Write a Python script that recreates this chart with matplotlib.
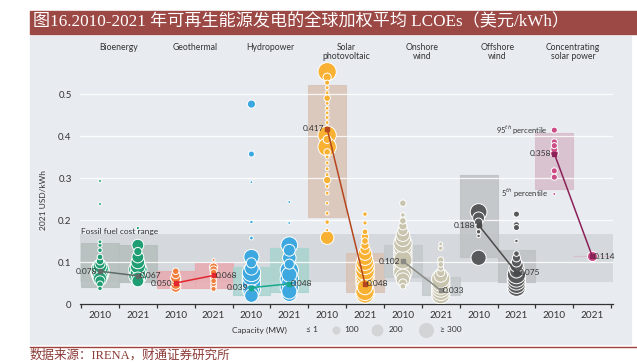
import matplotlib.pyplot as plt
from matplotlib.patches import Rectangle
import numpy as np

plt.rcParams['font.family'] = ['Lato', 'DejaVu Sans', 'Noto Sans CJK SC']

# ---- data ----
techs = ["Bioenergy", "Geothermal", "Hydropower", "Solar\nphotovoltaic",
         "Onshore\nwind", "Offshore\nwind", "Concentrating\nsolar power"]
years = ["2010", "2021"]

avg_2010 = [0.078, 0.050, 0.039, 0.417, 0.102, 0.188, 0.358]
avg_2021 = [0.067, 0.068, 0.048, 0.048, 0.033, 0.075, 0.114]
avg_labels_2010 = ["0.078", "0.050", "0.039", "0.417", "0.102", "0.188", "0.358"]
avg_labels_2021 = ["0.067", "0.068", "0.048", "0.048", "0.033", "0.075", "0.114"]

# 5th / 95th percentile boxes
p05_2010 = [0.040, 0.038, 0.021, 0.207, 0.064, 0.112, 0.274]
p95_2010 = [0.145, 0.079, 0.088, 0.521, 0.140, 0.307, 0.407]
p05_2021 = [0.052, 0.038, 0.028, 0.029, 0.021, 0.052, 0.114]
p95_2021 = [0.140, 0.098, 0.133, 0.121, 0.064, 0.129, 0.114]

fossil_low, fossil_high = 0.053, 0.167

# individual projects: LCOE (USD/kWh) and capacity (MW)
bio_2010_lcoe = [0.293, 0.238, 0.148, 0.140, 0.128, 0.112, 0.102, 0.096, 0.090, 0.085, 0.080,
                 0.075, 0.070, 0.065, 0.060, 0.055, 0.047, 0.037]
bio_2010_mw = [1, 1, 10, 15, 20, 40, 80, 150, 250, 350, 400, 400, 350, 300, 250, 150, 60, 20]
bio_2021_lcoe = [0.181, 0.140, 0.125, 0.112, 0.100, 0.090, 0.082, 0.075, 0.068, 0.060, 0.055]
bio_2021_mw = [3, 200, 100, 200, 250, 300, 400, 300, 400, 250, 200]

geo_2010_lcoe = [0.078, 0.070, 0.062, 0.056, 0.047, 0.040]
geo_2010_mw = [60, 100, 150, 150, 150, 150]
geo_2021_lcoe = [0.105, 0.088, 0.082, 0.075, 0.068, 0.061, 0.055, 0.048, 0.041, 0.036]
geo_2021_mw = [1, 100, 80, 60, 80, 50, 40, 40, 40, 30]

hydro_2010_lcoe = [0.476, 0.357, 0.290, 0.195, 0.157, 0.112, 0.098, 0.085, 0.075, 0.066,
                   0.058, 0.050, 0.043, 0.035, 0.028, 0.020]
hydro_2010_mw = [100, 50, 1, 5, 10, 300, 150, 250, 400, 400, 400, 400, 400, 400, 300, 250]
hydro_2021_lcoe = [0.243, 0.193, 0.140, 0.128, 0.110, 0.095, 0.080, 0.070, 0.060, 0.050,
                   0.040, 0.030, 0.024]
hydro_2021_mw = [1, 1, 350, 200, 250, 150, 400, 300, 400, 300, 400, 300, 300]

solar_2010_lcoe = [0.553, 0.540, 0.527, 0.515, 0.503, 0.490, 0.478, 0.466, 0.455, 0.444,
                   0.432, 0.420, 0.402, 0.392, 0.374, 0.362, 0.350, 0.336, 0.322, 0.308,
                   0.295, 0.280, 0.264, 0.240, 0.216, 0.195, 0.176, 0.158]
solar_2010_mw = [400, 100, 30, 10, 10, 60, 10, 10, 10, 10, 10, 10, 400, 100, 400, 60, 10,
                 10, 10, 10, 80, 10, 10, 5, 10, 20, 5, 250]
solar_2021_lcoe = [0.214, 0.193, 0.172, 0.160, 0.150, 0.140, 0.130, 0.120, 0.110, 0.100,
                   0.092, 0.085, 0.078, 0.070, 0.062, 0.055, 0.048, 0.040, 0.030, 0.024]
solar_2021_mw = [20, 15, 40, 80, 60, 100, 150, 250, 300, 350, 400, 400, 400, 400, 400, 400,
                 400, 300, 400, 400]

onshore_2010_lcoe = [0.240, 0.212, 0.198, 0.186, 0.175, 0.165, 0.155, 0.145, 0.135, 0.125,
                     0.115, 0.105, 0.095, 0.085, 0.075, 0.065, 0.058, 0.050, 0.042]
onshore_2010_mw = [60, 20, 60, 100, 150, 250, 300, 400, 400, 400, 400, 400, 400, 400, 400,
                   300, 250, 100, 40]
onshore_2021_lcoe = [0.143, 0.133, 0.105, 0.094, 0.085, 0.075, 0.068, 0.060, 0.052, 0.045,
                     0.038, 0.030, 0.022]
onshore_2021_mw = [10, 20, 50, 40, 40, 100, 250, 400, 400, 400, 400, 400, 400]

offshore_2010_lcoe = [0.219, 0.205, 0.195, 0.185, 0.172, 0.162, 0.110]
offshore_2010_mw = [350, 200, 100, 40, 20, 5, 300]
offshore_2021_lcoe = [0.214, 0.188, 0.182, 0.150, 0.120, 0.110, 0.100, 0.092, 0.085, 0.078,
                      0.070, 0.062, 0.055, 0.047, 0.040]
offshore_2021_mw = [50, 60, 50, 5, 40, 100, 150, 250, 300, 250, 400, 400, 400, 400, 400]

csp_2010_lcoe = [0.414, 0.386, 0.377, 0.368, 0.360, 0.317, 0.302, 0.262]
csp_2010_mw = [50, 50, 50, 70, 100, 50, 50, 1]
csp_2021_lcoe = [0.114]
csp_2021_mw = [150]

projects = [
    (bio_2010_lcoe, bio_2010_mw, bio_2021_lcoe, bio_2021_mw),
    (geo_2010_lcoe, geo_2010_mw, geo_2021_lcoe, geo_2021_mw),
    (hydro_2010_lcoe, hydro_2010_mw, hydro_2021_lcoe, hydro_2021_mw),
    (solar_2010_lcoe, solar_2010_mw, solar_2021_lcoe, solar_2021_mw),
    (onshore_2010_lcoe, onshore_2010_mw, onshore_2021_lcoe, onshore_2021_mw),
    (offshore_2010_lcoe, offshore_2010_mw, offshore_2021_lcoe, offshore_2021_mw),
    (csp_2010_lcoe, csp_2010_mw, csp_2021_lcoe, csp_2021_mw),
]

legend_mw = [1, 100, 200, 300]
legend_labels = ["\u2264 1", "100", "200", "\u2265 300"]

# ---- styles ----
dot_colors = ['#1f9e74', '#f07e3a', '#3da8df', '#f8b133', '#c9c4ae', '#58595b', '#cc4c86']
box_colors = ['#b5bfbc', '#e8aab0', '#a9d4cf', '#d9c3b5', '#c4c9cc', '#bfc2c5', '#d8bccb']
line_colors = ['#5e6b66', '#e3262e', '#18a88d', '#b5461e', '#8a8a85', '#4a4a4a', '#8a2158']
txt = '#333333'


def msize(mw):
    mw = np.asarray(mw, dtype=float)
    d_px = 2.5 + 0.35 * np.sqrt(mw) + 0.022 * mw
    return (d_px * 0.72) ** 2


fig = plt.figure(figsize=(6.37, 3.63), dpi=100)
W, H = 637, 363

# panel background, title bar, footer line
fig.patches.append(Rectangle((30 / W, 1 - 344 / H), 601 / W, 308 / H,
                             transform=fig.transFigure, color='#e8ecf1', zorder=-2))
fig.patches.append(Rectangle((30 / W, 1 - 34 / H), 607 / W, 23 / H,
                             transform=fig.transFigure, color='#9c4844', zorder=-2))
fig.lines.append(plt.Line2D([30 / W, 1], [1 - 347 / H, 1 - 347 / H],
                            transform=fig.transFigure, color='#a0413d', lw=1, zorder=-2))
fig.text(33 / W, 1 - 22.5 / H,
         "图16.2010-2021 年可再生能源发电的全球加权平均 LCOEs（美元/kWh）",
         color='white', fontsize=12.3, va='center', ha='left',
         family=['Liberation Serif', 'Noto Sans CJK SC'])
fig.text(30 / W, 1 - 355 / H, "数据来源：IRENA，财通证券研究所",
         color='#8b3a36', fontsize=9, va='center', ha='left',
         family=['Liberation Serif', 'Noto Sans CJK SC'])

ax = fig.add_axes([80 / W, 1 - 304 / H, 533 / W, 264.6 / H])
ax.set_facecolor('none')
ax.set_xlim(-0.528, 13.55)
ax.set_ylim(0, 0.63)

# fossil fuel band
ax.axhspan(fossil_low, fossil_high, color='#cdd0d4', alpha=0.7, lw=0, zorder=1)
ax.text(-0.5, fossil_high - 0.003, "Fossil fuel cost range", fontsize=6, color=txt,
        va='bottom', ha='left', zorder=6)

for i in range(len(techs)):
    x0, x1 = 2 * i, 2 * i + 1
    ax.bar(x0, p95_2010[i] - p05_2010[i], bottom=p05_2010[i], width=1.0,
           color=box_colors[i], edgecolor=box_colors[i], lw=0.8, alpha=0.85, zorder=2)
    ax.bar(x1, p95_2021[i] - p05_2021[i], bottom=p05_2021[i], width=1.0,
           color=box_colors[i], edgecolor=box_colors[i], lw=0.8, alpha=0.85, zorder=2)

# grid lines
for gy in [0.1, 0.2, 0.3, 0.4, 0.5]:
    ax.axhline(gy, color='white', lw=0.9, alpha=0.85, zorder=3)

# bubbles
for i, (l10, m10, l21, m21) in enumerate(projects):
    for xpos, vals, mws in [(2 * i, l10, m10), (2 * i + 1, l21, m21)]:
        order = np.argsort(mws)[::-1]
        v = np.asarray(vals)[order]
        s = msize(np.asarray(mws)[order])
        ax.scatter(np.full(len(v), xpos), v, s=s, color=dot_colors[i],
                   edgecolors='white', linewidths=0.7, zorder=4)

# weighted averages
for i in range(len(techs)):
    x0, x1 = 2 * i, 2 * i + 1
    ax.plot([x0, x1], [avg_2010[i], avg_2021[i]], color=line_colors[i], lw=1.1,
            marker='s', ms=2.2, zorder=5)
    ax.text(x0 - 0.08, avg_2010[i], avg_labels_2010[i], fontsize=6, color=txt,
            ha='right', va='center', zorder=6)
    ax.text(x1 + 0.05, avg_2021[i], avg_labels_2021[i], fontsize=6, color=txt,
            ha='left', va='center', zorder=6)

# percentile notes
ax.text(11.84, 0.414, "95$^{th}$ percentile", fontsize=5.5, color=txt,
        ha='right', va='center', zorder=6)
ax.text(11.84, 0.263, "5$^{th}$ percentile", fontsize=5.5, color=txt,
        ha='right', va='center', zorder=6)

# technology headers
for i, name in enumerate(techs):
    ax.text(2 * i + 0.5, 0.622, name, fontsize=6.2, color=txt, ha='center',
            va='top', linespacing=1.0, zorder=6)

# axes styling
for sp in ['top', 'right', 'left']:
    ax.spines[sp].set_visible(False)
ax.spines['bottom'].set_color(txt)
ax.spines['bottom'].set_linewidth(0.9)
ax.set_yticks([0, 0.1, 0.2, 0.3, 0.4, 0.5])
ax.set_yticklabels(["0", "0.1", "0.2", "0.3", "0.4", "0.5"])
ax.tick_params(axis='y', length=0, pad=6, labelsize=7, labelcolor=txt)
ax.set_xticks(np.arange(-0.5, 14, 1.0))
ax.set_xticklabels([])
ax.tick_params(axis='x', which='major', length=3, width=0.9, color=txt, direction='out')
ax.set_xticks(np.arange(14), minor=True)
ax.set_xticklabels([years[k % 2] for k in range(14)], minor=True)
ax.tick_params(axis='x', which='minor', length=0, pad=5, labelsize=7.2, labelcolor=txt)
fig.text(43 / W, 1 - 200 / H, "2021 USD/kWh", rotation=90, fontsize=6, color=txt,
         ha='center', va='center')

# capacity legend
lax = fig.add_axes([0, 0, 1, 1])
lax.set_xlim(0, W)
lax.set_ylim(H, 0)
lax.axis('off')
lax.text(259, 330, "Capacity (MW)", fontsize=6, color=txt, ha='center', va='center')
leg_dot_x = [300, 336, 377, 426]
leg_txt_x = [312, 352, 396, 451]
for k, mw in enumerate(legend_mw):
    if mw > 1:
        lax.scatter([leg_dot_x[k]], [330], s=msize([mw]), color='#d3d4d6', lw=0)
    lax.text(leg_txt_x[k], 330, legend_labels[k], fontsize=6, color=txt,
             ha='center', va='center')

fig.savefig("out.png", dpi=100)
